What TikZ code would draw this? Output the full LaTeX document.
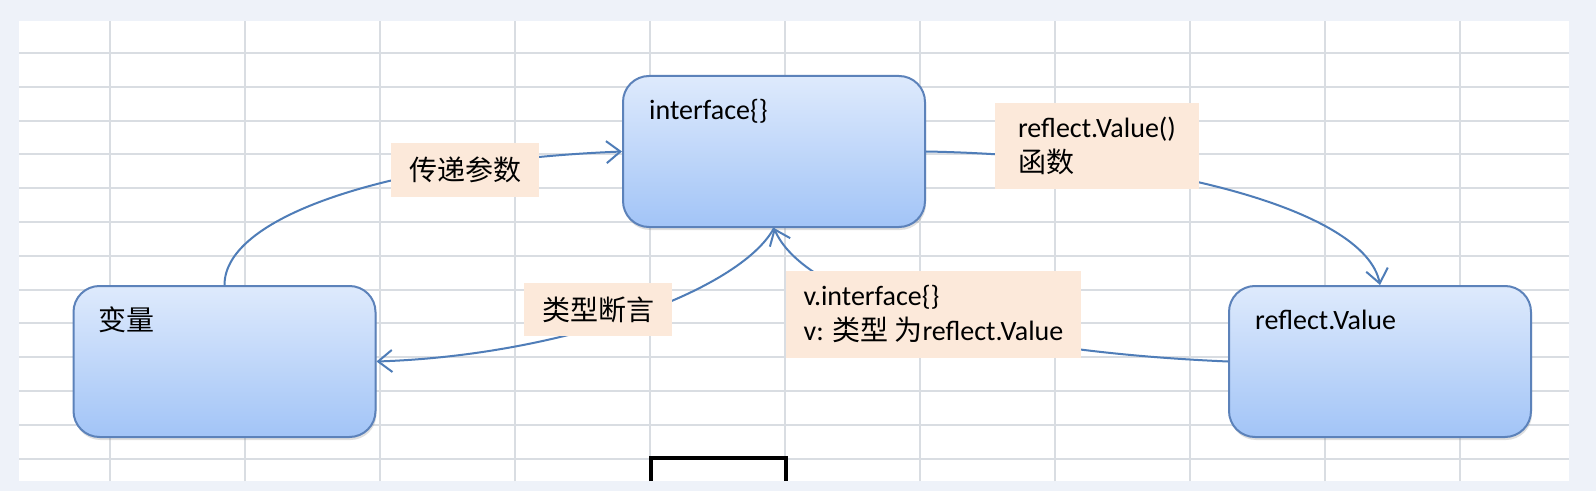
\documentclass[tikz,border=0pt]{standalone}
\usepackage{fontspec}
\setmainfont{Carlito}
\newfontfamily\cjkfont{Noto Sans CJK SC}
\newcommand{\zh}[1]{{\cjkfont #1}}
\usepackage{xcolor}
\usetikzlibrary{arrows.meta,shadows}
\definecolor{pagebg}{HTML}{EEF2F9}
\definecolor{gridgray}{HTML}{D9DDE2}
\definecolor{boxtop}{HTML}{DEEAFC}
\definecolor{boxbot}{HTML}{A2C4F7}
\definecolor{boxline}{HTML}{5C82BA}
\definecolor{arrowblue}{HTML}{4F7DB8}
\definecolor{notefill}{HTML}{FCE9DA}

\begin{document}
\begin{tikzpicture}[x=1pt, y=1pt,
  font=\fontsize{28}{35}\selectfont,
  gridline/.style={gridgray, line width=2pt},
  statebox/.style={draw=boxline, line width=2pt, rounded corners=26pt,
    top color=boxtop, bottom color=boxbot, inner sep=0pt,
    minimum width=302pt, minimum height=151pt,
    drop shadow={shadow xshift=1pt, shadow yshift=-3pt, opacity=0.25}},
  boxtext/.style={anchor=west, inner sep=0pt},
  note/.style={fill=notefill, inner sep=0pt, align=left},
  conn/.style={arrowblue, line width=2pt, -{Straight Barb[length=14pt,width=22pt]}}]
  \useasboundingbox (0,0) rectangle (1596,491);
  \fill[pagebg] (0,0) rectangle (1596,491);
  \fill[white] (19,10) rectangle (1569,470);
  \foreach \k in {0,...,12}
    \draw[gridline] (19,{438-33.8*\k}) -- (1569,{438-33.8*\k});
  \foreach \k in {0,...,10}
    \draw[gridline] ({110+135*\k},10) -- ({110+135*\k},470);

  \node[statebox] (var) at (224.5,129.5) {};
  \node[statebox] (iface) at (774,339.5) {};
  \node[statebox] (rval) at (1380,129.5) {};
  \node[boxtext] (vartxt) at ([shift={(26,-35)}]var.north west) {\zh{变量}};
  \node[boxtext] (ifacetxt) at ([shift={(27,-36)}]iface.north west) {interface\{\}};
  \node[boxtext] (rvaltxt) at ([shift={(27,-35)}]rval.north west) {reflect.Value};

  \draw[conn] (var.north) .. controls +(0,71) and +(-223,-9) .. (iface.west);
  \draw[conn] (iface.south) .. controls +(-34,-63) and +(185,6) .. (var.east);
  \draw[conn] (rval.west) .. controls +(-279,12) and +(26,-62) .. (iface.south);
  \draw[conn] (iface.east) .. controls +(225,-4) and +(-15,77) .. (rval.north);

  \node[note, minimum width=148pt, minimum height=54pt] (lpass) at (465,321) {\zh{传递参数}};
  \node[note, minimum width=148pt, minimum height=53pt] (lassert) at (598,181.5) {\zh{类型断言}};
  \node[note, minimum width=204pt, minimum height=86pt] (lfunc) at (1097,345) {reflect.Value()\\\zh{函数}};
  \node[note, minimum width=295pt, minimum height=87pt] (lconv) at (933.5,176.5) {v.interface\{\}\\v: \zh{类型 为}reflect.Value};

  \draw[black, line width=4.5pt] (651,10) -- (651,33) -- (786,33) -- (786,10);
\end{tikzpicture}
\end{document}
